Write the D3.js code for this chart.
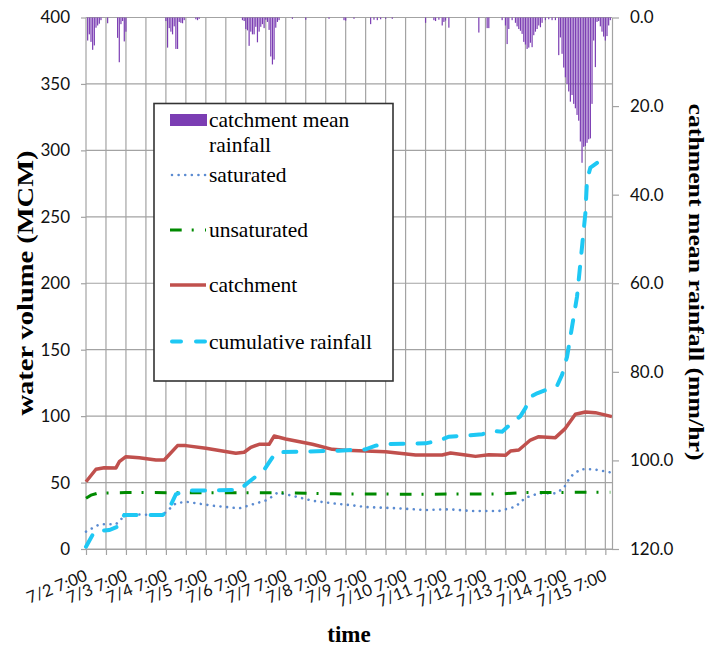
<!DOCTYPE html>
<html><head><meta charset="utf-8">
<script src="https://cdn.jsdelivr.net/npm/d3@7"></script>
<style>body{margin:0;background:#fff} svg{display:block}</style>
</head><body><svg id="c" width="709" height="648"></svg>
<script>
// ---------- data ----------
const xTickLabels = ["7/2 7:00","7/3 7:00","7/4 7:00","7/5 7:00","7/6 7:00","7/7 7:00","7/8 7:00",
  "7/9 7:00","7/10 7:00","7/11 7:00","7/12 7:00","7/13 7:00","7/14 7:00","7/15 7:00"];
const leftTicks = [0,50,100,150,200,250,300,350,400];
const rightTicks = [0,20,40,60,80,100,120];

// hourly catchment mean rainfall (hours after 7/2 7:00, mm/hr)
const rainHours = [1,2,3,4,5,6,7,8,9,13,
  19,20,21,22,23,24,
  48,49,50,51,52,53,54,55,56,57,58,59,
  66,67,68,
  94,95,96,97,98,99,100,101,102,103,104,105,106,107,108,
  109,110,111,112,113,114,115,116,
  124,132,146,155,156,161,171,173,175,177,180,184,
  204,209,210,212,214,215,216,218,236,241,242,
  250,252,253,254,256,258,259,260,261,262,263,264,265,266,267,268,269,270,271,272,273,274,276,278,280,282,
  284,285,286,287,288,289,290,291,292,293,294,295,296,297,298,299,300,301,302,303,304,305,306,307,308,309,310,311,312,313,314,315];
const rainValues = [5.2,3.8,5.5,7.3,6.3,2.3,1.8,1.4,0.6,1.3,
  4.6,10.1,1.5,0.8,5.4,3.2,
  0.8,6.8,2.4,3.2,3.8,2.0,7.1,7.1,1.0,1.2,1.3,0.6,
  0.4,0.6,0.3,
  0.6,0.8,2.6,2.9,6.4,3.2,3.8,3.8,2.1,5.6,3.2,2.1,1.5,2.4,0.5,
  1.0,2.8,8.8,10.6,9.5,2.3,1.0,0.6,
  0.3,0.5,0.3,0.6,0.7,0.3,1.5,0.5,0.6,0.4,0.3,0.3,
  1.2,0.6,0.8,0.5,1.8,1.0,0.7,2.3,3.4,2.4,2.4,
  0.6,1.8,6.0,2.6,0.6,1.2,2.0,2.6,3.0,3.7,5.5,6.1,7.1,6.8,5.7,6.7,4.0,3.2,2.6,1.8,2.2,1.2,0.6,0.4,0.6,0.6,
  8.5,4.5,8.2,11.3,13.5,15.0,16.7,19.0,17.5,19.5,20.5,22.0,23.3,28.0,32.8,29.2,29.0,28.3,27.5,27.3,19.5,5.2,11.2,1.0,0.8,2.0,3.2,4.3,5.2,4.2,1.8,0.6];

// water volume series [hour, MCM]
const saturated = [[0,13],[8,18.6],[18,18.6],[24,26.1],[46,25.6],[54,34.4],[60,35.6],[76,32.6],[92,30.6],
  [100,33.6],[109,36.9],[115,42.4],[124,40.1],[136,36.3],[148,34.4],[158,33.1],[168,31.6],[188,30.6],
  [204,29.3],[218,29.9],[232,28.6],[248,28.6],[258,31.8],[264,38.6],[272,41.9],[282,41.9],[287,45.7],
  [291,54.4],[297,60],[305,60],[315,57.7]];
const unsaturated = [[0,38.2],[3,40.5],[7,42],[24,42.5],[72,42.3],[120,42.3],[150,41.5],[200,41.2],
  [250,41.5],[262,42.5],[315,42.7]];
const catchment = [[0,50.6],[6,60],[11,61.2],[18,61],[20,65.7],[24,69.5],[32,68.7],[42,67],[47,67],
  [55,77.8],[60,77.8],[72,75.8],[90,72],[95,72.8],[99,76.5],[104,78.8],[110,78.8],[113,85],[120,82.8],
  [136,78.8],[148,75],[156,74.3],[168,73.7],[180,73.2],[198,70.7],[214,70.7],[219,72.3],[228,70.7],
  [234,69.7],[242,71],[252,70.5],[255,73.7],[260,74.5],[267,82],[272,84.5],[282,83.8],[288,90.8],
  [294,101.4],[300,103.1],[306,102.6],[316,99.6]];
const cumulative = [[0,1.7],[5,13],[14,14.3],[19,16.8],[23,25.6],[46,25.6],[49,28],[54,41.2],[60,43.9],
  [92,44.4],[98,50.6],[107,59.5],[111,67],[114,72.8],[152,74],[168,75],[174,77.8],[180,79],[204,79.5],
  [212,81.5],[218,84.5],[238,86.3],[243,88.8],[250,88.3],[256,95],[261,100],[264,106],[267,114.6],
  [271,117.2],[283,122.8],[286,131],[289,144.7],[292,167.3],[295,190],[298,227.5],[300,252.6],
  [301,277.7],[303,287],[308,291.5],[312,297.5]];

// ---------- chart ----------
const svg = d3.select("#c");
const L = 86, R = 612, T = 17.5, B = 549;
const x = d3.scaleLinear().domain([0, 316]).range([L, R]);
const y = d3.scaleLinear().domain([0, 400]).range([B, T]);
const y2 = d3.scaleLinear().domain([0, 120]).range([T, B]);
const gridCol = "#a3a3a3";
const tickFont = "Lato, 'Open Sans', sans-serif";
const serif = "'Liberation Serif', 'Times New Roman', serif";

const gridHours = d3.range(0, 313, 12);
// gridlines
svg.append("g").selectAll("line").data(leftTicks).join("line")
  .attr("x1", L).attr("x2", R).attr("y1", d => y(d)).attr("y2", d => y(d))
  .attr("stroke", gridCol).attr("stroke-width", 1.2);
svg.append("g").selectAll("line").data(gridHours).join("line")
  .attr("x1", d => x(d)).attr("x2", d => x(d)).attr("y1", T).attr("y2", B)
  .attr("stroke", gridCol).attr("stroke-width", 1.2);

// rainfall bars (hanging from top, secondary axis)
svg.append("g").selectAll("rect").data(rainHours.map((h, i) => [h, rainValues[i]])).join("rect")
  .attr("x", d => x(d[0]) - 0.6).attr("width", 1.2)
  .attr("y", T).attr("height", d => y2(d[1]) - T)
  .attr("fill", "#7b3db3");

// lines
const line = d3.line().x(d => x(d[0])).y(d => y(d[1]));
svg.append("path").datum(saturated).attr("d", line).attr("fill", "none")
  .attr("stroke", "#5b8bd1").attr("stroke-width", 2.6).attr("stroke-dasharray", "0.01,6.6").attr("stroke-linecap", "round");
svg.append("path").datum(unsaturated).attr("d", line).attr("fill", "none")
  .attr("stroke", "#008a00").attr("stroke-width", 3).attr("stroke-dasharray", "11.7,10,2,11.3");
svg.append("path").datum(catchment).attr("d", line).attr("fill", "none")
  .attr("stroke", "#c0504d").attr("stroke-width", 3.5).attr("stroke-linejoin", "round");
svg.append("path").datum(cumulative).attr("d", line).attr("fill", "none")
  .attr("stroke", "#1ec8f4").attr("stroke-width", 4).attr("stroke-dasharray", "13,14").attr("stroke-linecap", "round");

// axes
const gl = svg.append("g").attr("transform", `translate(${L},0)`)
  .call(d3.axisLeft(y).tickValues(leftTicks).tickSize(5).tickPadding(11).tickSizeOuter(0));
gl.select(".domain").remove();
gl.selectAll("line").attr("stroke", gridCol).attr("stroke-width", 1.2);
gl.selectAll("text").attr("font-family", tickFont).attr("font-size", 17).attr("fill", "#111");

const gr = svg.append("g").attr("transform", `translate(${R},0)`)
  .call(d3.axisRight(y2).tickValues(rightTicks).tickSize(7).tickPadding(11).tickSizeOuter(0).tickFormat(d3.format(".1f")));
gr.select(".domain").attr("stroke", gridCol).attr("stroke-width", 1.2);
gr.selectAll("line").attr("stroke", gridCol).attr("stroke-width", 1.2);
gr.selectAll("text").attr("font-family", tickFont).attr("font-size", 17).attr("fill", "#111");

const gb = svg.append("g").attr("transform", `translate(0,${B})`)
  .call(d3.axisBottom(x).tickValues(gridHours).tickSize(6).tickSizeOuter(0)
    .tickFormat(d => d % 24 === 0 ? xTickLabels[d / 24] : ""));
gb.select(".domain").attr("stroke", gridCol).attr("stroke-width", 1.2);
gb.selectAll("line").attr("stroke", gridCol).attr("stroke-width", 1.2);
gb.selectAll("text").attr("font-family", tickFont).attr("font-size", 16.5).attr("fill", "#111")
  .attr("text-anchor", "end").attr("x", 0).attr("y", 0).attr("dy", 0)
  .attr("transform", "translate(2,31) rotate(-22)");

// axis titles
svg.append("text").attr("x", (L + R) / 2).attr("y", 642).attr("text-anchor", "middle")
  .attr("font-family", serif).attr("font-weight", "bold").attr("font-size", 23).text("time");
svg.append("text").attr("transform", "translate(33,283) rotate(-90)").attr("text-anchor", "middle")
  .attr("font-family", serif).attr("font-weight", "bold").attr("font-size", 23)
  .attr("textLength", 265).attr("lengthAdjust", "spacingAndGlyphs").text("water volume (MCM)");
svg.append("text").attr("transform", "translate(689,282) rotate(90)").attr("text-anchor", "middle")
  .attr("font-family", serif).attr("font-weight", "bold").attr("font-size", 22)
  .attr("textLength", 357).attr("lengthAdjust", "spacingAndGlyphs").text("cathment  mean rainfall (mm/hr)");

// legend
const lg = svg.append("g");
lg.append("rect").attr("x", 154).attr("y", 103.5).attr("width", 239).attr("height", 277.5)
  .attr("fill", "#fff").attr("stroke", "#333").attr("stroke-width", 1.6);
const lf = 21.5, tx = 209;
lg.append("rect").attr("x", 170).attr("y", 114).attr("width", 37).attr("height", 12).attr("fill", "#7b3db3");
lg.append("text").attr("x", tx).attr("y", 127).attr("font-family", serif).attr("font-size", lf).text("catchment mean");
lg.append("text").attr("x", tx).attr("y", 152).attr("font-family", serif).attr("font-size", lf).text("rainfall");
const legLines = [
  {y: 175, name: "saturated", stroke: "#5b8bd1", w: 2.6, dash: "0.01,6.6", cap: "round"},
  {y: 230, name: "unsaturated", stroke: "#008a00", w: 3, dash: "11.7,10,2,11.3", cap: "butt"},
  {y: 285, name: "catchment", stroke: "#c0504d", w: 3.5, dash: null, cap: "butt"},
  {y: 341.5, name: "cumulative rainfall", stroke: "#1ec8f4", w: 4, dash: "9,15", cap: "round"}
];
legLines.forEach(d => {
  lg.append("line").attr("x1", d.cap === "round" ? 172 : 170).attr("x2", 206).attr("y1", d.y).attr("y2", d.y)
    .attr("stroke", d.stroke).attr("stroke-width", d.w).attr("stroke-linecap", d.cap)
    .attr("stroke-dasharray", d.dash);
  lg.append("text").attr("x", tx).attr("y", d.y + 7).attr("font-family", serif).attr("font-size", lf).text(d.name);
});
</script></body></html>
